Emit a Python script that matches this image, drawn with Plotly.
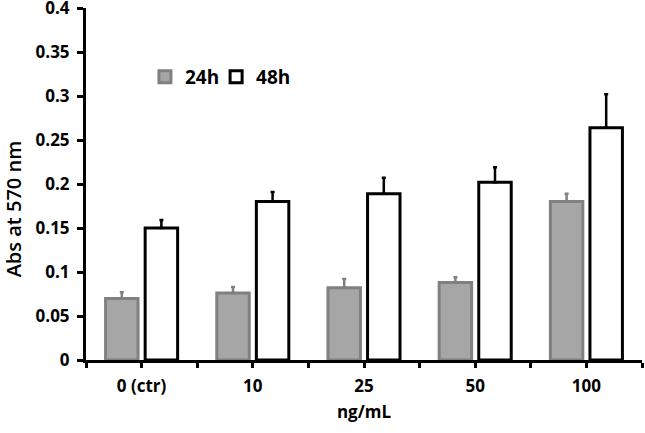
import plotly.graph_objects as go

categories = ["0 (ctr)", "10", "25", "50", "100"]
vals_24h = [0.070, 0.076, 0.082, 0.088, 0.180]
err_24h = [0.007, 0.007, 0.010, 0.006, 0.009]
vals_48h = [0.150, 0.180, 0.189, 0.202, 0.264]
err_48h = [0.009, 0.011, 0.018, 0.017, 0.038]
y_ticks = [0, 0.05, 0.1, 0.15, 0.2, 0.25, 0.3, 0.35, 0.4]
y_tick_text = ["0", "0.05", "0.1", "0.15", "0.2", "0.25", "0.3", "0.35", "0.4"]

xpos = list(range(len(categories)))
FONT = "Open Sans"

fig = go.Figure()
fig.add_trace(go.Bar(
    x=xpos, y=vals_24h, name="24h", legend="legend",
    marker=dict(color="#a6a6a6", line=dict(color="#808080", width=3)),
    error_y=dict(type="data", array=err_24h, arrayminus=[0] * 5, symmetric=False,
                 color="#808080", thickness=2.5, width=2),
))
fig.add_trace(go.Bar(
    x=xpos, y=vals_48h, name="48h", legend="legend2",
    marker=dict(color="white", line=dict(color="black", width=3)),
    error_y=dict(type="data", array=err_48h, arrayminus=[0] * 5, symmetric=False,
                 color="black", thickness=2.5, width=2),
))

xtickvals = [i * 0.5 - 0.5 for i in range(11)]
xticktext = ["" if (v % 1) != 0 else categories[int(v)] for v in xtickvals]

legend_style = dict(orientation="h", yanchor="middle", xanchor="left", y=0.804,
                    font=dict(family=FONT, size=19, weight="bold"),
                    bgcolor="rgba(0,0,0,0)", itemwidth=30)

fig.update_layout(
    width=645, height=433,
    margin=dict(l=86, r=3, t=8, b=73),
    paper_bgcolor="white", plot_bgcolor="white",
    barmode="group", bargap=0.288, bargroupgap=0.18,
    font=dict(family=FONT, color="black"),
    showlegend=True,
    legend=dict(x=0.106, **legend_style),
    legend2=dict(x=0.234, **legend_style),
    xaxis=dict(range=[-0.5, 4.5], tickmode="array", tickvals=xtickvals, ticktext=xticktext,
               showline=True, linecolor="black", linewidth=3, automargin=False,
               ticks="outside", ticklen=5, tickwidth=3, tickcolor="black",
               showgrid=False, zeroline=False, ticklabelstandoff=4,
               tickfont=dict(family=FONT, size=17, weight="bold"),
               title=dict(text="ng/mL", font=dict(family=FONT, size=17, weight="bold"), standoff=10)),
    yaxis=dict(range=[0, 0.4], tickmode="array", tickvals=y_ticks, ticktext=y_tick_text,
               showline=True, linecolor="black", linewidth=3, automargin=False,
               ticks="outside", ticklen=6, tickwidth=3, tickcolor="black",
               showgrid=False, zeroline=False, ticklabelstandoff=4,
               ticklabeloverflow="allow",
               tickfont=dict(family=FONT, size=17, weight="bold")),
    annotations=[dict(text="Abs at 570 nm", textangle=-90, showarrow=False,
                      xref="paper", yref="paper", x=-0.130, y=0.43,
                      xanchor="center", yanchor="middle",
                      font=dict(family=FONT, size=20, weight=600))],
)

fig.write_html("out.html", post_script="document.body.style.margin='0';",
               config={"displayModeBar": False})
